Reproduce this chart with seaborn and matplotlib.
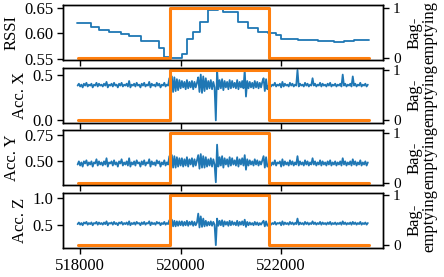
import numpy as np
import pandas as pd
import matplotlib
matplotlib.use("Agg")
import matplotlib.pyplot as plt
import seaborn as sns
from matplotlib.ticker import FixedLocator

# ---------------- data ----------------
# RSSI (step-wise signal): breakpoints and values
rssi_t = [517930, 518218, 518376, 518574, 518812, 518970, 519208, 519564, 519663,
          519796, 520026, 520125, 520250, 520390, 520554, 520752, 520851, 521148,
          521346, 521544, 521742, 521907, 522006, 522336, 522732, 523050, 523250,
          523450, 523740]
rssi_v = [0.619, 0.613, 0.606, 0.603, 0.599, 0.594, 0.585, 0.571, 0.553,
          0.551, 0.560, 0.589, 0.603, 0.621, 0.645, 0.650, 0.641, 0.621,
          0.610, 0.602, 0.600, 0.596, 0.589, 0.587, 0.585, 0.582, 0.585,
          0.587, 0.587]

# accelerometer samples (every 25 time units starting at 517950)
acc_t0 = 517950
acc_dt = 25
acc_x = [0.38, 0.40, 0.37, 0.39, 0.36, 0.40, 0.38, 0.41, 0.37, 0.39,
         0.38, 0.40, 0.36, 0.39, 0.38, 0.41, 0.37, 0.40, 0.38, 0.39,
         0.37, 0.40, 0.38, 0.42, 0.36, 0.39, 0.38, 0.40, 0.37, 0.41,
         0.38, 0.39, 0.36, 0.40, 0.38, 0.41, 0.37, 0.39, 0.38, 0.40,
         0.37, 0.43, 0.36, 0.39, 0.38, 0.40, 0.37, 0.41, 0.38, 0.39,
         0.36, 0.40, 0.38, 0.41, 0.37, 0.39, 0.38, 0.42, 0.36, 0.40,
         0.38, 0.39, 0.37, 0.41, 0.38, 0.40, 0.36, 0.39, 0.38, 0.41,
         0.37, 0.39, 0.38,
         0.46, 0.30, 0.48, 0.31, 0.47, 0.32, 0.45, 0.33, 0.44,
         0.35, 0.43, 0.36, 0.42, 0.34, 0.44, 0.35, 0.42, 0.36, 0.43, 0.34, 0.42, 0.36, 0.41,
         0.47, 0.31, 0.50, 0.30, 0.48, 0.32, 0.46, 0.34,
         0.43, 0.35, 0.44, 0.34, 0.42, 0.36,
         0.00, 0.55,
         0.34, 0.44, 0.35, 0.45, 0.33, 0.43, 0.36, 0.42, 0.34, 0.44, 0.35,
         0.43, 0.36, 0.41, 0.35, 0.44, 0.34, 0.42, 0.36, 0.43, 0.35,
         0.55, 0.26,
         0.43, 0.35, 0.42, 0.36, 0.41, 0.35, 0.43, 0.36, 0.42, 0.35, 0.41, 0.36, 0.42,
         0.46, 0.32, 0.45, 0.34,
         0.38, 0.40, 0.37, 0.39, 0.38, 0.41, 0.37, 0.39, 0.38, 0.40, 0.36, 0.42,
         0.37, 0.40, 0.38, 0.39, 0.37, 0.41, 0.38, 0.40, 0.37, 0.39, 0.38,
         0.55,
         0.37, 0.40, 0.38, 0.39, 0.37, 0.41, 0.38, 0.40, 0.37, 0.39, 0.38,
         0.46,
         0.38, 0.40, 0.37, 0.39, 0.38, 0.41, 0.37, 0.40, 0.38, 0.39, 0.37, 0.40,
         0.38, 0.41, 0.37, 0.39, 0.38, 0.40, 0.37, 0.39, 0.38, 0.40, 0.37,
         0.50,
         0.38, 0.40, 0.37, 0.39, 0.38, 0.40, 0.37,
         0.48,
         0.38, 0.40, 0.37, 0.39, 0.38, 0.41, 0.37, 0.39, 0.38, 0.40, 0.37, 0.39]
acc_y = [0.47, 0.50, 0.46, 0.49, 0.45, 0.50, 0.48, 0.51, 0.46, 0.49,
         0.47, 0.50, 0.45, 0.49, 0.48, 0.52, 0.46, 0.50, 0.47, 0.49,
         0.46, 0.50, 0.47, 0.53, 0.45, 0.49, 0.48, 0.50, 0.46, 0.51,
         0.47, 0.49, 0.45, 0.50, 0.48, 0.52, 0.46, 0.49, 0.47, 0.50,
         0.46, 0.53, 0.45, 0.49, 0.47, 0.50, 0.46, 0.51, 0.48, 0.49,
         0.45, 0.50, 0.47, 0.51, 0.46, 0.49, 0.48, 0.52, 0.45, 0.50,
         0.47, 0.49, 0.46, 0.51, 0.48, 0.50, 0.45, 0.49, 0.47, 0.51,
         0.46, 0.49, 0.47,
         0.55, 0.43, 0.56, 0.44, 0.55, 0.44, 0.54, 0.45, 0.53,
         0.46, 0.53, 0.45, 0.52, 0.46, 0.54, 0.45, 0.52, 0.47, 0.53, 0.45, 0.52, 0.46, 0.51,
         0.56, 0.43, 0.57, 0.44, 0.55, 0.44, 0.54, 0.45,
         0.52, 0.46, 0.53, 0.45, 0.52, 0.47,
         0.30, 0.66,
         0.45, 0.54, 0.46, 0.55, 0.44, 0.53, 0.47, 0.52, 0.45, 0.54, 0.46,
         0.53, 0.47, 0.51, 0.46, 0.54, 0.45, 0.52, 0.47, 0.53, 0.46,
         0.56, 0.42,
         0.52, 0.46, 0.51, 0.47, 0.50, 0.46, 0.52, 0.47, 0.51, 0.46, 0.50, 0.47, 0.51,
         0.55, 0.44, 0.54, 0.45,
         0.47, 0.50, 0.46, 0.49, 0.47, 0.51, 0.46, 0.49, 0.48, 0.50, 0.45, 0.52,
         0.46, 0.50, 0.47, 0.49, 0.46, 0.51, 0.47, 0.50, 0.46, 0.49, 0.47,
         0.55,
         0.46, 0.50, 0.47, 0.49, 0.46, 0.51, 0.47, 0.50, 0.46, 0.49, 0.47,
         0.53,
         0.47, 0.50, 0.46, 0.49, 0.47, 0.51, 0.46, 0.50, 0.47, 0.49, 0.46, 0.50,
         0.47, 0.51, 0.46, 0.49, 0.47, 0.50, 0.46, 0.49, 0.47, 0.50, 0.46,
         0.53,
         0.47, 0.50, 0.46, 0.49, 0.47, 0.50, 0.46,
         0.52,
         0.47, 0.50, 0.46, 0.49, 0.47, 0.51, 0.46, 0.49, 0.47, 0.50, 0.46, 0.49]
acc_z = [0.52, 0.55, 0.51, 0.54, 0.50, 0.55, 0.53, 0.56, 0.51, 0.54,
         0.52, 0.55, 0.50, 0.54, 0.53, 0.56, 0.51, 0.55, 0.52, 0.54,
         0.51, 0.55, 0.52, 0.57, 0.50, 0.54, 0.53, 0.55, 0.51, 0.56,
         0.52, 0.54, 0.50, 0.55, 0.53, 0.56, 0.51, 0.54, 0.52, 0.55,
         0.51, 0.57, 0.50, 0.54, 0.52, 0.55, 0.51, 0.56, 0.53, 0.54,
         0.50, 0.55, 0.52, 0.56, 0.51, 0.54, 0.53, 0.57, 0.50, 0.55,
         0.52, 0.54, 0.51, 0.56, 0.53, 0.55, 0.50, 0.54, 0.52, 0.56,
         0.51, 0.54, 0.52,
         0.59, 0.47, 0.60, 0.48, 0.58, 0.48, 0.57, 0.49, 0.57,
         0.50, 0.57, 0.49, 0.56, 0.50, 0.58, 0.49, 0.56, 0.51, 0.57, 0.49, 0.56, 0.50, 0.55,
         0.71, 0.46, 0.66, 0.47, 0.62, 0.48, 0.58, 0.49,
         0.56, 0.50, 0.57, 0.49, 0.56, 0.51,
         0.14, 0.62,
         0.49, 0.58, 0.50, 0.59, 0.48, 0.57, 0.51, 0.56, 0.49, 0.58, 0.50,
         0.57, 0.51, 0.55, 0.50, 0.58, 0.49, 0.56, 0.51, 0.57, 0.50,
         0.60, 0.47,
         0.56, 0.50, 0.55, 0.51, 0.54, 0.50, 0.56, 0.51, 0.55, 0.50, 0.54, 0.51, 0.55,
         0.58, 0.48, 0.57, 0.49,
         0.52, 0.55, 0.51, 0.54, 0.52, 0.56, 0.51, 0.54, 0.53, 0.55, 0.50, 0.57,
         0.51, 0.55, 0.52, 0.54, 0.51, 0.56, 0.52, 0.55, 0.51, 0.54, 0.52,
         0.62,
         0.51, 0.55, 0.52, 0.54, 0.51, 0.56, 0.52, 0.55, 0.51, 0.54, 0.52,
         0.57,
         0.52, 0.55, 0.51, 0.54, 0.52, 0.56, 0.51, 0.55, 0.52, 0.54, 0.51, 0.55,
         0.52, 0.56, 0.51, 0.54, 0.52, 0.55, 0.51, 0.54, 0.52, 0.55, 0.51,
         0.57,
         0.52, 0.55, 0.51, 0.54, 0.52, 0.55, 0.51,
         0.56,
         0.52, 0.55, 0.51, 0.54, 0.52, 0.56, 0.51, 0.54, 0.52, 0.55, 0.51, 0.54]

# bag-emptying indicator (step)
bag_t = [517950, 519780, 521760, 523740]
bag_v = [0, 1, 0, 0]

ylabels = ["RSSI", "Acc. X", "Acc. Y", "Acc. Z"]
yticks = [[0.55, 0.60, 0.65], [0.0, 0.5], [0.50, 0.75], [0.5, 1.0]]
xticks = [518000, 520000, 522000]

# ---------------- plot ----------------
sns.set_theme(style="ticks", rc={
    "axes.edgecolor": "black", "axes.linewidth": 1.0,
    "xtick.color": "black", "ytick.color": "black",
    "text.color": "black", "axes.labelcolor": "black",
    "xtick.major.size": 4, "ytick.major.size": 4,
    "xtick.major.width": 1.0, "ytick.major.width": 1.0,
    "xtick.major.pad": 3, "ytick.major.pad": 3,
})
plt.rcParams["font.family"] = ["Liberation Serif", "DejaVu Serif"]
plt.rcParams["font.size"] = 12
plt.rcParams["axes.labelsize"] = 12
plt.rcParams["xtick.labelsize"] = 12
plt.rcParams["ytick.labelsize"] = 12


def times(vals):
    return [acc_t0 + acc_dt * i for i in range(len(vals))]


series = [
    pd.DataFrame({"t": rssi_t, "v": rssi_v}),
    pd.DataFrame({"t": times(acc_x), "v": acc_x}),
    pd.DataFrame({"t": times(acc_y), "v": acc_y}),
    pd.DataFrame({"t": times(acc_z), "v": acc_z}),
]
bag_df = pd.DataFrame({"t": bag_t, "v": bag_v})

fig, axes = plt.subplots(4, 1, sharex=True, figsize=(4.44, 2.77), dpi=100)
fig.subplots_adjust(left=0.142, right=0.863, top=0.982, bottom=0.105, hspace=0.13)

for k, ax in enumerate(axes):
    df = series[k]
    kw = {"drawstyle": "steps-post"} if k == 0 else {}
    sns.lineplot(data=df, x="t", y="v", ax=ax, color="#1f77b4",
                 linewidth=1.3, **kw)
    ax.set_ylabel(ylabels[k], labelpad=3)
    ax.set_xlabel("")
    ax.yaxis.set_major_locator(FixedLocator(yticks[k]))
    ax2 = ax.twinx()
    sns.lineplot(data=bag_df, x="t", y="v", ax=ax2, color="#ff7f0e",
                 linewidth=2.2, drawstyle="steps-post")
    ax2.set_ylim(-0.05, 1.05)
    ax2.set_yticks([0, 1])
    ax2.set_yticklabels(["0", "1"])
    ax2.tick_params(axis="y", labelsize=11)
    ax2.set_ylabel("Bag-\nemptying", fontsize=12, labelpad=4, linespacing=0.95)
    ax2.set_xlabel("")
    for sp in ax2.spines.values():
        sp.set_visible(True)
        sp.set_color("black")

axes[0].set_ylim(0.547, 0.655)
axes[1].set_ylim(-0.027, 0.577)
axes[2].set_ylim(0.27, 0.80)
axes[3].set_ylim(0.09, 1.09)
axes[-1].xaxis.set_major_locator(FixedLocator(xticks))
axes[-1].ticklabel_format(axis="x", style="plain", useOffset=False)
axes[-1].set_xlim(517660, 524030)

fig.savefig("out.png", dpi=100)
